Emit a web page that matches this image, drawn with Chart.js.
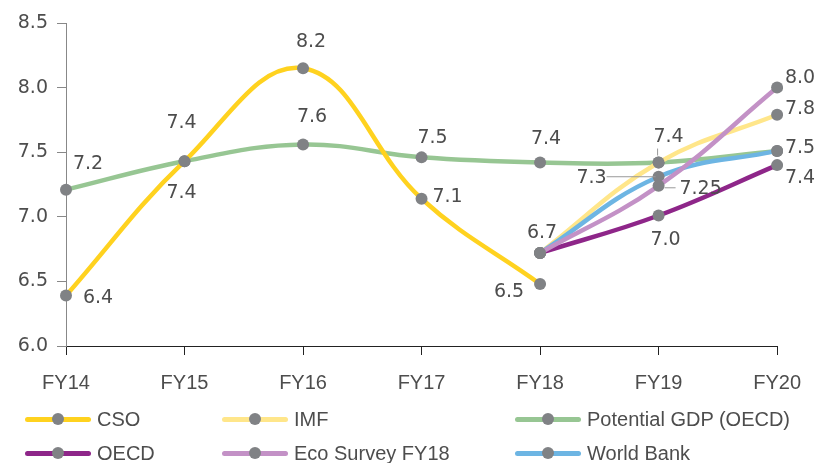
<!DOCTYPE html>
<html>
<head>
<meta charset="utf-8">
<script src="https://cdn.jsdelivr.net/npm/chart.js@4"></script>
<style>
    body { margin: 0; background: #fff; }
    #wrap { position: relative; width: 817px; height: 463px; }
    .leg { position: absolute; font: 20px "Liberation Sans", Arial, sans-serif; color: #4d4d4d; white-space: nowrap; }
    .leg .ln { position: absolute; left: 0; top: -2.5px; width: 66px; height: 5px; border-radius: 3px; }
    .leg .dot { position: absolute; left: 27px; top: -6px; width: 12px; height: 12px; border-radius: 50%; background: #808285; }
    .leg .tx { position: absolute; left: 72px; top: -12px; line-height: 24px; }
</style>
</head>
<body>
<div id="wrap">
    <canvas id="gdpChart" width="817" height="463"></canvas>
    <div id="legend"></div>
</div>
<script>
// Data
const years = ['FY14', 'FY15', 'FY16', 'FY17', 'FY18', 'FY19', 'FY20'];
const yTicks = [6.0, 6.5, 7.0, 7.5, 8.0, 8.5];

const cso       = [6.39, 7.43, 8.15, 7.14, 6.48, null, null];
const imf       = [null, null, null, null, 6.72, 7.42, 7.79];
const potential = [7.21, 7.43, 7.56, 7.46, 7.42, 7.42, 7.51];
const oecd      = [null, null, null, null, 6.72, 7.01, 7.40];
const ecoSurvey = [null, null, null, null, 6.72, 7.24, 8.00];
const worldBank = [null, null, null, null, 6.72, 7.31, 7.51];

// Printed value labels (null = not printed)
const csoLabels       = ['6.4', '7.4', '8.2', '7.1', '6.5', null, null];
const imfLabels       = [null, null, null, null, '6.7', null, '7.8'];
const potentialLabels = ['7.2', '7.4', '7.6', '7.5', '7.4', '7.4', '7.5'];
const oecdLabels      = [null, null, null, null, null, '7.0', '7.4'];
const ecoLabels       = [null, null, null, null, null, '7.25', '8.0'];
const wbLabels        = [null, null, null, null, null, '7.3', null];

// label offsets from the point [dx, dy]
const labelOffsets = {
    CSO: [[32, 2], [-3, 32], [8, -26], [26, -2], [-31, 8], null, null],
    IMF: [null, null, null, null, [2, -20], null, [23, -6]],
    'Potential GDP (OECD)': [[22, -26], [-3, -38], [9, -27], [11, -19], [6, -23], [10, -25], [23, -3]],
    OECD: [null, null, null, null, null, [7, 25], [23, 13]],
    'Eco Survey FY18': [null, null, null, null, null, [42, 3], [23, -10]],
    'World Bank': [null, null, null, null, null, [-67, 1], null]
};
// leader lines [dataset, index, x1, y1, x2, y2] relative to the point
const leaders = [
    ['Potential GDP (OECD)', 5, -1, -14, -1, -7],
    ['World Bank', 5, -52, 0, -3, 0],
    ['Eco Survey FY18', 5, 6, 2, 17, 2]
];

const series = [
    { label: 'CSO', data: cso, labels: csoLabels, color: '#FFD21F', order: 4 },
    { label: 'IMF', data: imf, labels: imfLabels, color: '#FFE68A', order: 3 },
    { label: 'Potential GDP (OECD)', data: potential, labels: potentialLabels, color: '#97C693', order: 5 },
    { label: 'OECD', data: oecd, labels: oecdLabels, color: '#8E2689', order: 1 },
    { label: 'Eco Survey FY18', data: ecoSurvey, labels: ecoLabels, color: '#C391C6', order: 0 },
    { label: 'World Bank', data: worldBank, labels: wbLabels, color: '#6DB5E3', order: 2 }
];

const LABEL_FONT = '19px "DejaVu Sans", Verdana, sans-serif';
const TEXT_COLOR = '#4d4d4d';

// Draw value labels and leader lines
const valueLabels = {
    id: 'valueLabels',
    afterDatasetsDraw(chart) {
        const ctx = chart.ctx;
        ctx.save();
        ctx.strokeStyle = '#9a9a9a';
        ctx.lineWidth = 1;
        leaders.forEach(([name, i, x1, y1, x2, y2]) => {
            const di = chart.data.datasets.findIndex(d => d.label === name);
            const pt = chart.getDatasetMeta(di).data[i];
            ctx.beginPath();
            ctx.moveTo(pt.x + x1, pt.y + y1);
            ctx.lineTo(pt.x + x2, pt.y + y2);
            ctx.stroke();
        });
        ctx.font = LABEL_FONT;
        ctx.fillStyle = TEXT_COLOR;
        ctx.textAlign = 'center';
        ctx.textBaseline = 'middle';
        chart.data.datasets.forEach((ds, di) => {
            const meta = chart.getDatasetMeta(di);
            ds.valueLabels.forEach((txt, i) => {
                if (!txt) return;
                const off = labelOffsets[ds.label][i];
                const pt = meta.data[i];
                ctx.fillText(txt, pt.x + off[0], pt.y + off[1]);
            });
        });
        ctx.restore();
    }
};

const ctx = document.getElementById('gdpChart').getContext('2d');
const gdpChart = new Chart(ctx, {
    type: 'line',
    data: {
        labels: years,
        datasets: series.map(s => ({
            label: s.label,
            data: s.data,
            valueLabels: s.labels,
            borderColor: s.color,
            borderWidth: 4.5,
            tension: 0.4,
            pointRadius: 6,
            pointBackgroundColor: '#808285',
            pointBorderWidth: 0,
            order: s.order
        }))
    },
    options: {
        responsive: false,
        animation: false,
        layout: { padding: { top: 23, right: 38, bottom: 57, left: 0 } },
        plugins: {
            legend: { display: false },
            tooltip: { enabled: false }
        },
        scales: {
            x: {
                offset: false,
                grid: { drawOnChartArea: false, drawTicks: true, tickLength: 9, tickColor: '#222' },
                border: { color: '#222', width: 1 },
                ticks: { color: TEXT_COLOR, font: { family: '"Liberation Sans", Arial', size: 20 }, padding: 16, maxRotation: 0 },
                afterFit(scale) { scale.height = 60; }
            },
            y: {
                min: 6.0,
                max: 8.5,
                afterBuildTicks(scale) { scale.ticks = yTicks.map(v => ({ value: v })); },
                grid: { drawOnChartArea: false, drawTicks: true, tickLength: 9, tickColor: '#888' },
                border: { color: '#888', width: 1 },
                ticks: {
                    color: TEXT_COLOR,
                    font: { family: '"DejaVu Sans", Verdana', size: 19 },
                    padding: 9,
                    callback: v => v.toFixed(1)
                },
                afterFit(scale) { scale.width = 66; }
            }
        }
    },
    plugins: [valueLabels]
});

// HTML legend (line with marker)
const legendPos = [
    [25, 419], [222, 419], [515, 419],
    [25, 453], [222, 453], [515, 453]
];
const legendOrder = ['CSO', 'IMF', 'Potential GDP (OECD)', 'OECD', 'Eco Survey FY18', 'World Bank'];
const legendEl = document.getElementById('legend');
legendOrder.forEach((name, k) => {
    const s = series.find(x => x.label === name);
    const item = document.createElement('div');
    item.className = 'leg';
    item.style.left = legendPos[k][0] + 'px';
    item.style.top = legendPos[k][1] + 'px';
    item.innerHTML = `<div class="ln" style="background:${s.color}"></div><div class="dot"></div><div class="tx">${name}</div>`;
    legendEl.appendChild(item);
});
</script>
</body>
</html>
